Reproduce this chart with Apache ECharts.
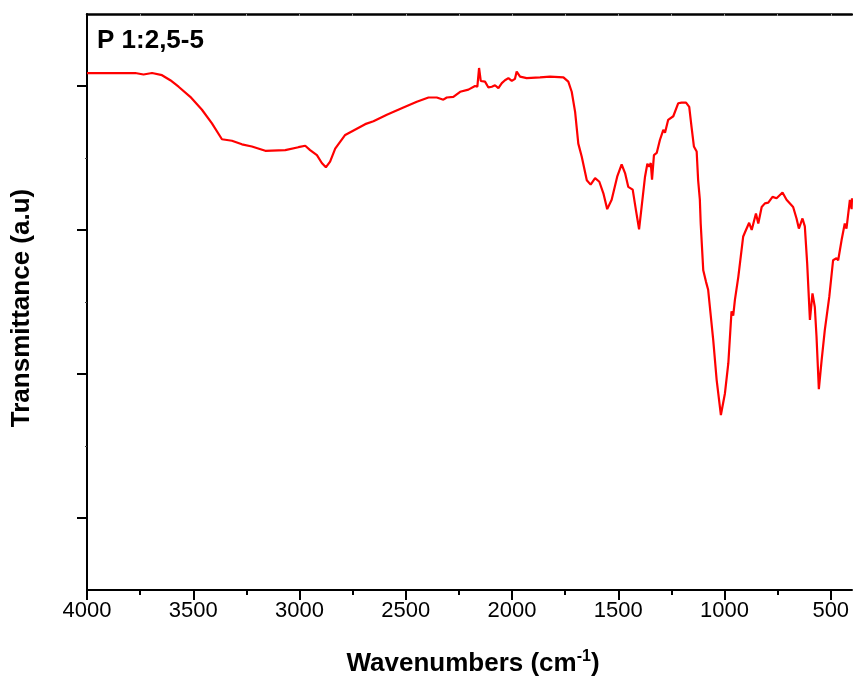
<!DOCTYPE html>
<html>
<head>
<meta charset="utf-8">
<script src="https://cdn.jsdelivr.net/npm/echarts@6/dist/echarts.min.js"></script>
<style>
  html, body { margin: 0; padding: 0; background: #fff; }
  #chart { width: 853px; height: 681px; }
</style>
</head>
<body>
<div id="chart"></div>
<script>
// FTIR spectrum of sample P 1:2,5-5 (wavenumber in cm^-1, transmittance in arbitrary units)
const wavenumber = [
  4000, 3773, 3734, 3694, 3647, 3608, 3569, 3514, 3459, 3412, 3365, 3318, 3271, 3224, 3161,
  3067, 3005, 2973, 2950, 2918, 2895, 2876, 2856, 2832, 2785, 2691, 2652, 2589, 2511, 2448,
  2393, 2354, 2323, 2307, 2276, 2244, 2205, 2174, 2163, 2155, 2147, 2127, 2111, 2095, 2080,
  2064, 2048, 2033, 2017, 2001, 1986, 1978, 1962, 1931, 1868, 1821, 1758, 1735, 1719, 1703,
  1688, 1672, 1648, 1630, 1609, 1589, 1570, 1552, 1531, 1505, 1484, 1468, 1453, 1432, 1417,
  1402, 1390, 1374, 1363, 1354, 1347, 1341, 1332, 1319, 1304, 1288, 1280, 1265, 1241, 1218,
  1202, 1181, 1166, 1155, 1144, 1131, 1124, 1116, 1112, 1100, 1087, 1077, 1053, 1037, 1017,
  998, 982, 967, 959, 951, 935, 912, 899, 884, 872, 852, 841, 825, 810, 794,
  774, 755, 727, 708, 677, 661, 650, 633, 622, 611, 598, 586, 575, 567, 556,
  543, 528, 507, 489, 473, 465, 449, 434, 426, 410, 402, 400
];
const transmittance = [
  71.8, 71.8, 71.6, 71.8, 71.5, 70.8, 69.9, 68.5, 66.7, 64.8, 62.6, 62.4, 61.9, 61.6, 61.0,
  61.1, 61.5, 61.7, 61.1, 60.4, 59.3, 58.7, 59.5, 61.3, 63.2, 64.7, 65.1, 66.0, 67.0, 67.8,
  68.4, 68.4, 68.1, 68.4, 68.5, 69.2, 69.5, 70.0, 69.9, 72.5, 70.7, 70.6, 69.8, 69.9, 70.1,
  69.7, 70.4, 70.8, 71.1, 70.7, 71.0, 72.0, 71.3, 71.1, 71.2, 71.3, 71.2, 70.6, 69.2, 66.4,
  62.0, 60.2, 56.9, 56.3, 57.2, 56.7, 55.1, 52.9, 54.2, 57.4, 59.1, 57.9, 56.0, 55.6, 52.8,
  50.1, 53.2, 57.4, 59.2, 58.8, 59.3, 57.0, 60.4, 60.7, 62.5, 63.9, 63.5, 65.3, 65.8, 67.6,
  67.7, 67.7, 67.1, 64.3, 61.6, 60.9, 56.9, 54.2, 50.9, 44.4, 42.8, 41.7, 34.7, 29.2, 24.3,
  27.3, 31.5, 38.7, 38.1, 40.3, 43.5, 49.1, 50.0, 51.0, 50.0, 52.3, 50.9, 53.2, 53.7, 53.8,
  54.6, 54.4, 55.2, 54.2, 53.2, 51.6, 50.2, 51.6, 50.5, 45.4, 37.5, 41.2, 39.3, 35.2, 27.9,
  31.9, 36.1, 40.7, 45.8, 46.1, 45.8, 48.6, 50.9, 50.2, 54.2, 52.9, 54.4
];

// Axis tick positions
const xMajorTicks = [4000, 3500, 3000, 2500, 2000, 1500, 1000, 500];
const xMinorTicks = [3750, 3250, 2750, 2250, 1750, 1250, 750];
const xTopTicks = [3750, 3500, 3250, 3000, 2750, 2500, 2250, 2000, 1750, 1500, 1250, 1000, 750, 500];
const yMajorTicks = [10, 30, 50, 70];
const yMinorTicks = [20, 40, 60];

const sampleLabel = 'P 1:2,5-5';

const FONT = 'Arial, "Liberation Sans", Helvetica, sans-serif';
const points = wavenumber.map((w, i) => [w, transmittance[i]]);

const chart = echarts.init(document.getElementById('chart'), null, { renderer: 'canvas' });

const baseX = {
  type: 'value', min: 400, max: 4000, inverse: true,
  splitLine: { show: false }
};
const baseY = {
  type: 'value', min: 0, max: 80,
  splitLine: { show: false }
};

chart.setOption({
  animation: false,
  backgroundColor: '#ffffff',
  grid: { left: 87, right: 1, top: 14, bottom: 91, containLabel: false },
  xAxis: [
    Object.assign({}, baseX, {
      position: 'bottom',
      axisLine: { show: true, onZero: false, lineStyle: { color: '#000', width: 2 } },
      axisTick: { show: true, inside: false, length: 10, customValues: xMajorTicks,
        lineStyle: { color: '#000', width: 2 } },
      axisLabel: { show: true, customValues: xMajorTicks, margin: 10,
        formatter: v => String(v),
        color: '#000', fontSize: 22, fontFamily: FONT }
    }),
    Object.assign({}, baseX, {
      position: 'bottom',
      axisLine: { show: false, onZero: false },
      axisTick: { show: true, inside: false, length: 5, customValues: xMinorTicks,
        lineStyle: { color: '#000', width: 2 } },
      axisLabel: { show: false }
    }),
    Object.assign({}, baseX, {
      position: 'top',
      axisLine: { show: true, onZero: false, lineStyle: { color: '#000', width: 2.5 } },
      axisTick: { show: true, inside: true, length: 2, customValues: xTopTicks,
        lineStyle: { color: '#999', width: 1 } },
      axisLabel: { show: false }
    })
  ],
  yAxis: [
    Object.assign({}, baseY, {
      position: 'left',
      axisLine: { show: true, onZero: false, lineStyle: { color: '#000', width: 2 } },
      axisTick: { show: true, inside: false, length: 10, customValues: yMajorTicks,
        lineStyle: { color: '#000', width: 2 } },
      axisLabel: { show: false }
    }),
    Object.assign({}, baseY, {
      position: 'left',
      axisLine: { show: false, onZero: false },
      axisTick: { show: true, inside: false, length: 2, customValues: yMinorTicks,
        lineStyle: { color: '#444', width: 1 } },
      axisLabel: { show: false }
    })
  ],
  series: [{
    type: 'line',
    xAxisIndex: 0,
    yAxisIndex: 0,
    data: points,
    showSymbol: false,
    symbol: 'none',
    smooth: false,
    lineStyle: { color: '#ff0000', width: 2.2 }
  }],
  graphic: [
    {
      type: 'text', left: 97, top: 28,
      style: { text: sampleLabel, font: 'bold 26px ' + FONT, fill: '#000' }
    },
    {
      type: 'text', x: 22, y: 308, rotation: Math.PI / 2,
      style: {
        text: 'Transmittance (a.u)', font: 'bold 26px ' + FONT, fill: '#000',
        align: 'center', verticalAlign: 'middle'
      }
    },
    {
      type: 'text', x: 473, y: 664,
      style: {
        text: '{t|Wavenumbers (cm}{s|-1}{t|)}',
        align: 'center', verticalAlign: 'middle',
        rich: {
          t: { font: 'bold 26px ' + FONT, fill: '#000', color: '#000' },
          s: { font: 'bold 16px ' + FONT, fill: '#000', color: '#000', padding: [0, 0, 14, 0] }
        }
      }
    }
  ]
});
</script>
</body>
</html>
